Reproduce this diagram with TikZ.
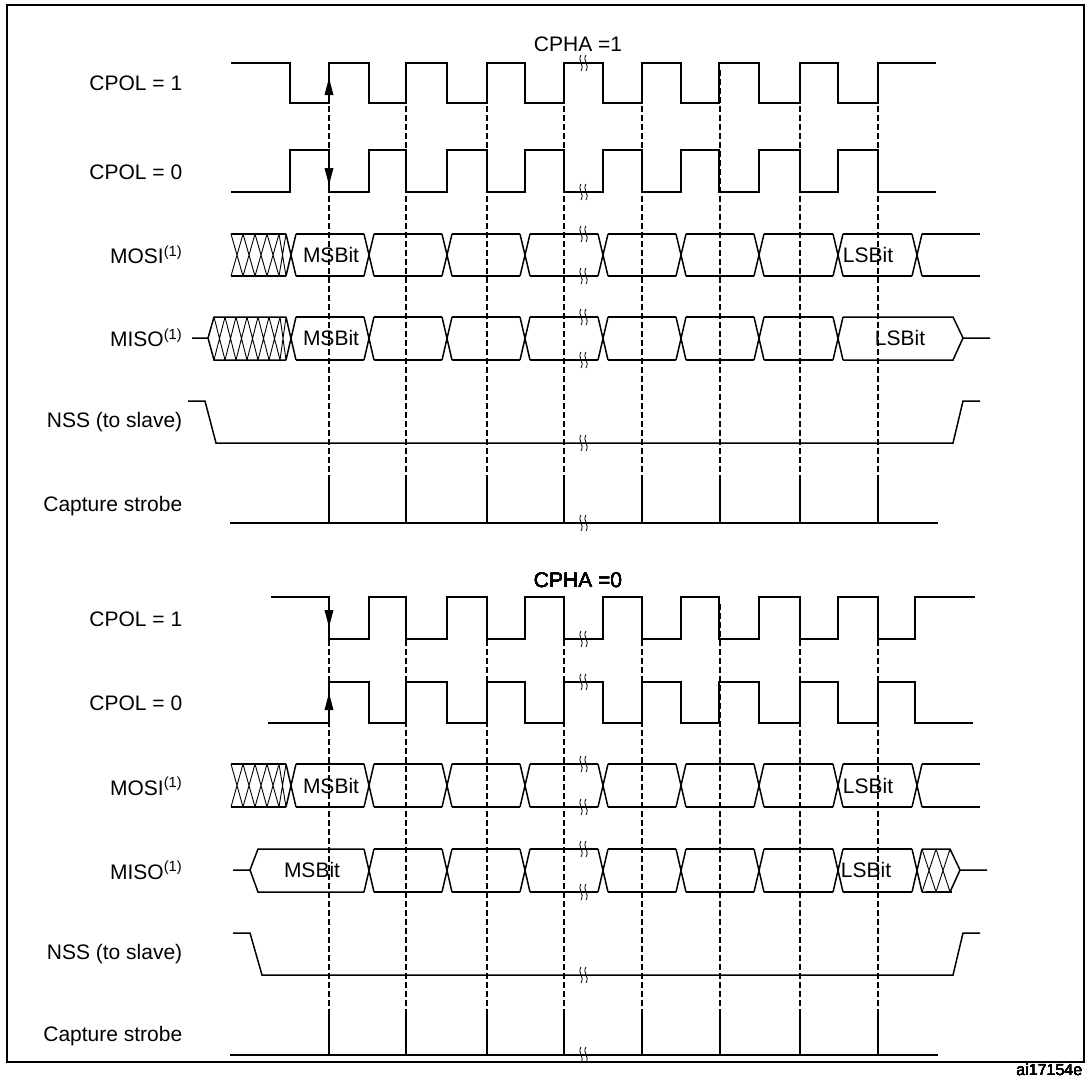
\documentclass[tikz,border=0pt]{standalone}
\usepackage{fontspec}
\setmainfont{Liberation Sans}
\usetikzlibrary{arrows.meta}
\newcommand\brk[2]{\draw[shift={(#1,#2)},line width=0.8pt] (-2,-8) .. controls (-6,-2) and (2,1) .. (-2,8) (3,-8) .. controls (-1,-2) and (7,1) .. (3,8);}
\newcommand\xing[3]{\draw (#1-5,#2)--(#1+5,#3) (#1-5,#3)--(#1+5,#2);}
\newcommand\uphead[2]{\fill (#1,#2) -- (#1-4.5,#2+17) -- (#1+4.5,#2+17) -- cycle;}
\newcommand\dnhead[2]{\fill (#1,#2) -- (#1-4.5,#2-17) -- (#1+4.5,#2-17) -- cycle;}
\begin{document}
\begin{tikzpicture}[x=1pt,y=-1pt,line width=1.5pt,
  lbl/.style={anchor=east,inner sep=0pt,font=\fontsize{21}{24}\selectfont},
  txt/.style={inner sep=0pt,font=\fontsize{21}{24}\selectfont},
  dsh/.style={line width=1.1pt,dash pattern=on 6pt off 3pt},
  hat/.style={line width=0.9pt}]
\useasboundingbox (0,0) rectangle (1086,1080);
\draw[line width=1.6pt] (7,1062) -- (7,5) -- (1084,5) -- (1084,1062) -- cycle;
% ---------- CPHA = 1 ----------
\node[txt] (t1) at (578,44) {CPHA =1};
\node[lbl] (l1) at (183,83) {CPOL = 1};
\node[lbl] (l2) at (183,172) {CPOL = 0};
\node[lbl] (l3) at (183,255) {MOSI\textsuperscript{(1)}};
\node[lbl] (l4) at (183,338) {MISO\textsuperscript{(1)}};
\node[lbl] (l5) at (183,422) {NSS (to slave)};
\node[lbl] (l6) at (183,506) {Capture strobe};
\foreach \x in {329,406,487,564,642,720,800,878} \draw[dsh] (\x,70) -- (\x,478);
\draw (231,63) -- (290,63) -- (290,103)
  \foreach \a/\b in {329/369,406/447,487/525,564/603,642/681,719/759,800/838}{ -- (\a,103) -- (\a,63) -- (\b,63) -- (\b,103)}
  -- (878,103) -- (878,63) -- (936,63);
\draw (231,192) -- (290,192) -- (290,150)
  \foreach \a/\b in {329/369,406/447,487/525,564/603,642/681,719/759,800/838}{ -- (\a,150) -- (\a,192) -- (\b,192) -- (\b,150)}
  -- (878,150) -- (878,192) -- (936,192);
\uphead{329}{78}
\dnhead{329}{185}
% MOSI
\foreach \c in {291,369,447,525,603,681,759,838,917} \xing{\c}{234}{276}
\foreach \a/\b in {291/369,369/447,447/525,525/603,603/681,681/759,759/838,838/917}
  \draw (\a+5,234) -- (\b-5,234) (\a+5,276) -- (\b-5,276);
\draw (922,234) -- (980,234) (922,276) -- (980,276);
\draw (231,234) -- (286,234) (231,276) -- (286,276);
\foreach \x in {231,243,255,267} \draw[hat] (\x,234) -- (\x+12,276) (\x,276) -- (\x+12,234);
\draw[hat] (279,234) -- (286,276) (279,276) -- (286,234);
\node[txt] (m1) at (331,255) {MSBit};
\node[txt] (m2) at (868,255) {LSBit};
% MISO
\draw (192,338) -- (208,338) -- (214,317) -- (286,317) (208,338) -- (214,360) -- (286,360);
\foreach \x in {214,225,236,247,258,269} \draw[hat] (\x,317) -- (\x+11,360) (\x,360) -- (\x+11,317);
\draw[hat] (280,317) -- (286,360) (280,360) -- (286,317);
\foreach \c in {291,369,447,525,603,681,759,838} \xing{\c}{317}{360}
\foreach \a/\b in {291/369,369/447,447/525,525/603,603/681,681/759,759/838}
  \draw (\a+5,317) -- (\b-5,317) (\a+5,360) -- (\b-5,360);
\draw (843,317) -- (953,317) -- (963,338) -- (953,360) -- (843,360) (963,338) -- (990,338);
\node[txt] (m3) at (331,338) {MSBit};
\node[txt] (m4) at (900,338) {LSBit};
% NSS
\draw (188,401) -- (205,401) -- (216,443) -- (953,443) -- (963,401) -- (980,401);
% strobe
\draw (230,523) -- (938,523);
\foreach \x in {329,406,487,564,642,720,800,878} \draw (\x,523) -- (\x,478);
\foreach \y in {63,192,234,276,317,360,443,523} \brk{583}{\y}
% ---------- CPHA = 0 ----------
\node[txt] (t2) at (578,580) {CPHA =0};
\node[lbl] (k1) at (183,619) {CPOL = 1};
\node[lbl] (k2) at (183,703) {CPOL = 0};
\node[lbl] (k3) at (183,786) {MOSI\textsuperscript{(1)}};
\node[lbl] (k4) at (183,870) {MISO\textsuperscript{(1)}};
\node[lbl] (k5) at (183,954) {NSS (to slave)};
\node[lbl] (k6) at (183,1036) {Capture strobe};
\foreach \x in {329,406,487,564,642,720,800,878} \draw[dsh] (\x,604) -- (\x,1013);
\draw (271,597) -- (329,597) -- (329,639) -- (369,639)
  \foreach \a/\b in {369/406,447/487,525/564,603/642,681/719,759/800}{ -- (\a,639) -- (\a,597) -- (\b,597) -- (\b,639)}
  -- (838,639) -- (838,597) -- (878,597) -- (878,639) -- (915,639) -- (915,597) -- (975,597);
\draw (268,723) -- (329,723) -- (329,682) -- (369,682)
  \foreach \a/\b in {369/406,447/487,525/564,603/642,681/719,759/800}{ -- (\a,682) -- (\a,723) -- (\b,723) -- (\b,682)}
  -- (838,682) -- (838,723) -- (878,723) -- (878,682) -- (915,682) -- (915,723) -- (973,723);
\dnhead{329}{627}
\uphead{329}{693}
% MOSI
\foreach \c in {291,369,447,525,603,681,759,838,917} \xing{\c}{764}{807}
\foreach \a/\b in {291/369,369/447,447/525,525/603,603/681,681/759,759/838,838/917}
  \draw (\a+5,764) -- (\b-5,764) (\a+5,807) -- (\b-5,807);
\draw (922,764) -- (980,764) (922,807) -- (980,807);
\draw (231,764) -- (286,764) (231,807) -- (286,807);
\foreach \x in {231,243,255,267} \draw[hat] (\x,764) -- (\x+12,807) (\x,807) -- (\x+12,764);
\draw[hat] (279,764) -- (286,807) (279,807) -- (286,764);
\node[txt] (n1) at (331,786) {MSBit};
\node[txt] (n2) at (868,786) {LSBit};
% MISO
\draw (233,870) -- (250,870) -- (258,849) -- (364,849) (250,870) -- (258,892) -- (364,892);
\foreach \c in {369,447,525,603,681,759,838,917} \xing{\c}{849}{892}
\foreach \a/\b in {369/447,447/525,525/603,603/681,681/759,759/838,838/917}
  \draw (\a+5,849) -- (\b-5,849) (\a+5,892) -- (\b-5,892);
\draw (922,849) -- (950,849) -- (960,870) -- (950,892) -- (922,892) (960,870) -- (987,870);
\foreach \x in {922,936} \draw[hat] (\x,849) -- (\x+14,892) (\x,892) -- (\x+14,849);
\draw[line width=2.5pt] (926,892) -- (952,892);
\node[txt] (n3) at (312,870) {MSBit};
\node[txt] (n4) at (866,870) {LSBit};
% NSS
\draw (233,933) -- (250,933) -- (262,975) -- (953,975) -- (963,933) -- (980,933);
% strobe
\draw (230,1055) -- (938,1055);
\foreach \x in {329,406,487,564,642,720,800,878} \draw (\x,1055) -- (\x,1013);
\foreach \y in {639,682,764,807,849,892,975,1055} \brk{583}{\y}
\node[inner sep=0pt,anchor=east,font=\fontsize{16}{18}\selectfont] (id) at (1083,1070) {ai17154e};
\end{tikzpicture}
\end{document}
